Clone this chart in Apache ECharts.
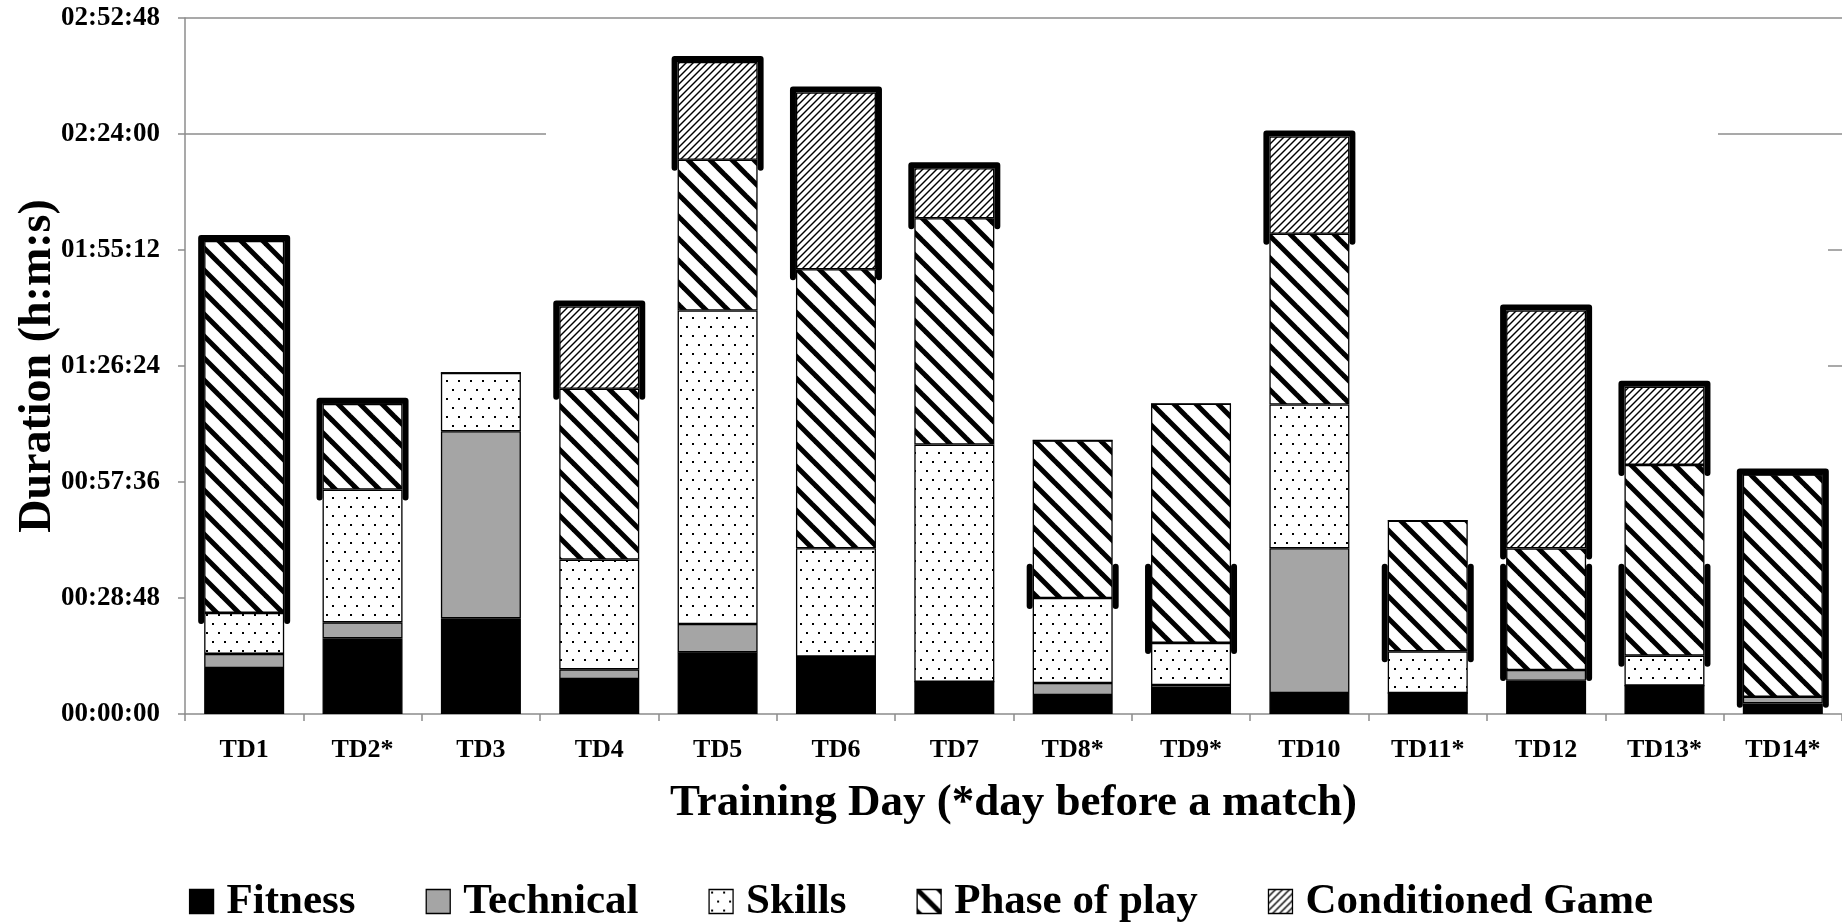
<!DOCTYPE html>
<html>
<head>
<meta charset="utf-8">
<style>
  html, body { margin: 0; padding: 0; background: #fff; }
  #chart { width: 1842px; height: 924px; }
</style>
<script src="https://cdn.jsdelivr.net/npm/echarts@6/dist/echarts.min.js"></script>
</head>
<body>
<div id="chart"></div>
<script>
// ---------------- DATA (durations in seconds) ----------------
const categories = ['TD1','TD2*','TD3','TD4','TD5','TD6','TD7','TD8*','TD9*','TD10','TD11*','TD12','TD13*','TD14*'];
const fitness   = [686, 1127, 1425, 522, 918, 854, 481, 283, 388, 313, 313, 496, 422, 158];
const technical = [209, 238, 2787, 143, 423, 0, 0, 179, 45, 2155, 0, 159, 0, 100];
const skills    = [611, 1978, 870, 1635, 4670, 1614, 3532, 1267, 626, 2142, 620, 0, 447, 0];
const phase     = [5539, 1277, 0, 2544, 2246, 4158, 3373, 2345, 3562, 2544, 1948, 1812, 2842, 3309];
const conditioned = [0, 0, 0, 1227, 1455, 2634, 745, 0, 0, 1450, 0, 3543, 1163, 0];
const seriesNames = ['Fitness', 'Technical', 'Skills', 'Phase of play', 'Conditioned Game'];
const yTickValues = [0, 1728, 3456, 5184, 6912, 8640, 10368];
const xTitle = 'Training Day (*day before a match)';
const yTitle = 'Duration (h:m:s)';
// Days whose top block is drawn with a heavy outline in the original figure
const heavyOutlineDays = ['TD1','TD2*','TD4','TD5','TD6','TD7','TD10','TD12','TD13*','TD14*'];
// Days with heavy side marks around the lower part of the "Phase of play" block
const sideMarkDays = ['TD8*','TD9*','TD11*','TD12','TD13*'];
const sideMarkTop = 2195; // seconds, upper end of those side marks

// ---------------- STYLE ----------------
const FONT = "'Liberation Serif', 'Times New Roman', serif";
const AXIS_GRAY = '#8c8c8c';
const BAR_W = 80;

function makeTile(w, h, draw) {
  const c = document.createElement('canvas');
  c.width = w; c.height = h;
  const ctx = c.getContext('2d');
  ctx.fillStyle = '#fff';
  ctx.fillRect(0, 0, w, h);
  draw(ctx, w, h);
  return { image: c, repeat: 'repeat' };
}
const dotPattern = makeTile(12, 18, (ctx) => {
  ctx.fillStyle = '#000';
  ctx.fillRect(2, 2, 2, 2);
  ctx.fillRect(8, 11, 2, 2);
});
const phasePattern = makeTile(22, 22, (ctx, w, h) => {
  ctx.strokeStyle = '#000';
  ctx.lineWidth = 5;
  ctx.lineCap = 'butt';
  [-w, 0, w].forEach(off => {
    ctx.beginPath();
    ctx.moveTo(off - 4, -4);
    ctx.lineTo(off + w + 4, h + 4);
    ctx.stroke();
  });
});
const cgPattern = makeTile(7, 7, (ctx, w, h) => {
  ctx.strokeStyle = '#000';
  ctx.lineWidth = 1.4;
  [-w, 0, w].forEach(off => {
    ctx.beginPath();
    ctx.moveTo(off - 2, h + 2);
    ctx.lineTo(off + w + 2, -2);
    ctx.stroke();
  });
});

const fills = ['#000000', '#a5a5a5', dotPattern, phasePattern, cgPattern];
const valueSets = [fitness, technical, skills, phase, conditioned];

function hms(v) {
  const h = Math.floor(v / 3600), m = Math.floor((v % 3600) / 60), s = Math.round(v % 60);
  const p = n => String(n).padStart(2, '0');
  return p(h) + ':' + p(m) + ':' + p(s);
}

const barSeries = seriesNames.map((name, i) => ({
  name: name,
  type: 'bar',
  stack: 'total',
  barWidth: BAR_W,
  data: valueSets[i],
  itemStyle: { color: fills[i], borderColor: '#000', borderWidth: 1.3 },
  emphasis: { disabled: true }
}));

// heavy outline around the top block of selected days (from the stacked values)
const outlineData = [];
categories.forEach((cat, ci) => {
  if (heavyOutlineDays.indexOf(cat) < 0) return;
  const parts = valueSets.map(a => a[ci]);
  let topIdx = parts.length - 1;
  while (topIdx > 0 && parts[topIdx] === 0) topIdx--;
  let bottom = 0;
  for (let k = 0; k < topIdx; k++) bottom += parts[k];
  outlineData.push([ci, bottom, bottom + parts[topIdx], 1]);
});
categories.forEach((cat, ci) => {
  if (sideMarkDays.indexOf(cat) < 0) return;
  const phaseBottom = fitness[ci] + technical[ci] + skills[ci];
  outlineData.push([ci, phaseBottom, sideMarkTop, 0]);
});

barSeries[4].markLine = {
  silent: true,
  symbol: 'none',
  animation: false,
  label: { show: false },
  lineStyle: { color: AXIS_GRAY, width: 1.5, type: 'solid' },
  data: [
    { yAxis: yTickValues[6] },
    [{ x: 185, yAxis: yTickValues[5] }, { x: 546, yAxis: yTickValues[5] }],
    [{ x: 1718, yAxis: yTickValues[5] }, { x: 1842, yAxis: yTickValues[5] }],
    [{ x: 1828, yAxis: yTickValues[4] }, { x: 1842, yAxis: yTickValues[4] }],
    [{ x: 1828, yAxis: yTickValues[3] }, { x: 1842, yAxis: yTickValues[3] }]
  ]
};

const outlineSeries = {
  name: 'outline',
  type: 'custom',
  silent: true,
  z: 5,
  data: outlineData,
  renderItem: function (params, api) {
    const x = api.coord([api.value(0), 0])[0];
    const yA = api.coord([api.value(0), api.value(2)])[1];
    const yB = api.coord([api.value(0), api.value(1)])[1];
    const lw = 6;
    const half = BAR_W / 2 + lw / 2;
    if (api.value(3) === 1) {
      return {
        type: 'polyline',
        shape: { points: [[x - half, yB + 8], [x - half, yA - lw / 2], [x + half, yA - lw / 2], [x + half, yB + 8]] },
        style: { stroke: '#000', lineWidth: lw, fill: null, lineJoin: 'round', lineCap: 'round' }
      };
    }
    return {
      type: 'group',
      children: [
        { type: 'line', shape: { x1: x - half, y1: yA, x2: x - half, y2: yB + 8 }, style: { stroke: '#000', lineWidth: lw, lineCap: 'round' } },
        { type: 'line', shape: { x1: x + half, y1: yA, x2: x + half, y2: yB + 8 }, style: { stroke: '#000', lineWidth: lw, lineCap: 'round' } }
      ]
    };
  }
};

const chart = echarts.init(document.getElementById('chart'), null, { renderer: 'canvas' });
chart.setOption({
  animation: false,
  backgroundColor: '#fff',
  textStyle: { fontFamily: FONT },
  grid: { left: 185, right: 0, top: 18, bottom: 210, containLabel: false, outerBoundsMode: 'none' },
  legend: {
    data: seriesNames,
    left: 'center',
    top: 880,
    padding: 0,
    itemWidth: 24,
    itemHeight: 24,
    itemGap: 70,
    icon: 'rect',
    textStyle: { fontFamily: FONT, fontSize: 43, fontWeight: 'bold', color: '#000', padding: [0, 0, 0, 8] },
    itemStyle: { borderColor: '#000', borderWidth: 1.3 }
  },
  xAxis: {
    type: 'category',
    data: categories,
    name: xTitle,
    nameLocation: 'middle',
    nameGap: 67,
    nameMoveOverlap: false,
    nameTextStyle: { fontFamily: FONT, fontSize: 45, fontWeight: 'bold', color: '#000' },
    axisLine: { lineStyle: { color: AXIS_GRAY, width: 1.5 } },
    axisTick: { show: true, length: 7, lineStyle: { color: AXIS_GRAY, width: 1.5 } },
    axisLabel: { interval: 0, margin: 23, fontFamily: FONT, fontSize: 26, fontWeight: 'bold', color: '#000' },
    splitLine: { show: false }
  },
  yAxis: {
    type: 'value',
    min: 0,
    max: yTickValues[yTickValues.length - 1],
    interval: yTickValues[1] - yTickValues[0],
    name: yTitle,
    nameLocation: 'middle',
    nameGap: 124,
    nameMoveOverlap: false,
    nameTextStyle: { fontFamily: FONT, fontSize: 46, fontWeight: 'bold', color: '#000' },
    axisLine: { show: true, lineStyle: { color: AXIS_GRAY, width: 1.5 } },
    axisTick: { show: true, length: 7, lineStyle: { color: AXIS_GRAY, width: 1.5 } },
    axisLabel: { margin: 25, fontFamily: FONT, fontSize: 27, fontWeight: 'bold', color: '#000', formatter: hms },
    splitLine: { show: false }
  },
  series: barSeries.concat([outlineSeries])
});
</script>
</body>
</html>
